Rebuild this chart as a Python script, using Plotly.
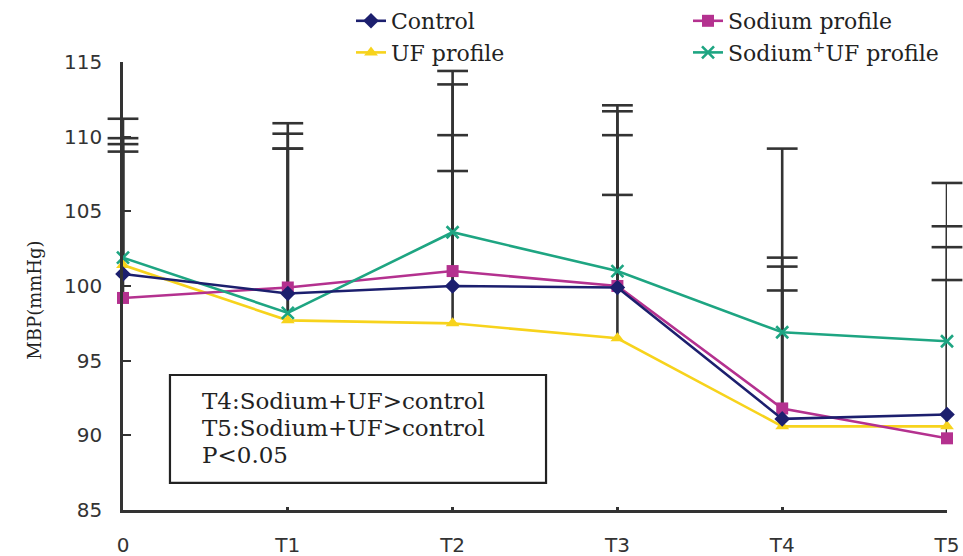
import plotly.graph_objects as go

# Time points of the session
times = ["0", "T1", "T2", "T3", "T4", "T5"]

# Mean MBP (mmHg) for each dialysis regimen
control_mean = [100.8, 99.5, 100.0, 99.9, 91.1, 91.4]
sodium_mean = [99.2, 99.9, 101.0, 100.0, 91.8, 89.8]
uf_mean = [101.4, 97.7, 97.5, 96.5, 90.6, 90.6]
sodium_uf_mean = [101.9, 98.2, 103.6, 101.0, 96.9, 96.3]

# Standard deviations (drawn as upper error bars only)
control_sd = [8.7, 10.7, 10.1, 10.2, 10.2, 12.6]
sodium_sd = [9.8, 11.0, 12.5, 11.7, 10.1, 10.6]
uf_sd = [8.5, 11.5, 10.2, 9.6, 9.1, 12.0]
sodium_uf_sd = [9.3, 11.0, 10.8, 11.1, 12.3, 10.6]

series = [
    dict(name="Control", mean=control_mean, sd=control_sd, legend="legend",
         color="#1c1f6e", symbol="diamond", size=12, lw=0),
    dict(name="Sodium profile", mean=sodium_mean, sd=sodium_sd, legend="legend2",
         color="#b4318f", symbol="square", size=12, lw=0),
    dict(name="UF profile", mean=uf_mean, sd=uf_sd, legend="legend",
         color="#f7d31c", symbol="triangle-up", size=12, lw=0),
    dict(name="Sodium<sup>+</sup>UF profile", mean=sodium_uf_mean, sd=sodium_uf_sd,
         legend="legend2", color="#1ea582", symbol="x-thin", size=12, lw=2.6),
]

ERR_COLOR = "#333333"
fig = go.Figure()

# Error bar stems and caps, drawn first so the series sit on top
for s in series:
    xs, ys = [], []
    for t, m, sd in zip(times, s["mean"], s["sd"]):
        xs += [t, t, None]
        ys += [m, m + sd, None]
    fig.add_trace(go.Scatter(
        x=xs, y=ys, mode="lines", line=dict(color=ERR_COLOR, width=2.6),
        showlegend=False, hoverinfo="skip", cliponaxis=False,
    ))
    fig.add_trace(go.Scatter(
        x=times, y=[m + sd for m, sd in zip(s["mean"], s["sd"])],
        mode="markers",
        marker=dict(symbol="line-ew", size=22,
                    line=dict(color=ERR_COLOR, width=2.6)),
        showlegend=False, hoverinfo="skip", cliponaxis=False,
    ))

# Series lines with markers
for s in [series[2], series[1], series[3], series[0]]:
    mk = dict(symbol=s["symbol"], size=s["size"], color=s["color"])
    if s["lw"]:
        mk["line"] = dict(color=s["color"], width=s["lw"])
    fig.add_trace(go.Scatter(
        x=times, y=s["mean"], name=s["name"], mode="lines+markers",
        line=dict(color=s["color"], width=2.6), marker=mk,
        cliponaxis=False, legend=s["legend"], legendrank=series.index(s),
    ))

# Significance note box
fig.add_shape(type="rect", xref="x", yref="y", x0=0.285, x1=2.567, y0=86.81, y1=94.04,
              line=dict(color="#222222", width=2.2), fillcolor="rgba(0,0,0,0)")
note_lines = ["T4:Sodium+UF>control", "T5:Sodium+UF>control", "P<0.05"]
note_y = [92.30, 90.49, 88.68]
for txt, yy in zip(note_lines, note_y):
    fig.add_annotation(x=0.4715, y=yy, xref="x", yref="y", text=txt, showarrow=False,
                       xanchor="left", yanchor="middle", borderpad=0,
                       font=dict(family="DejaVu Serif", size=23, color="#222222"))

# Y axis title
fig.add_annotation(x=(22 - 123) / 824, y=(510 - 300) / 448.3, xref="paper", yref="paper",
                   text="MBP(mmHg)", showarrow=False, textangle=-90,
                   font=dict(family="DejaVu Serif", size=18, color="#222222"))

legend_style = dict(orientation="v", xanchor="left", yanchor="top",
                    xref="container", yref="container",
                    font=dict(family="DejaVu Serif", size=22, color="#222222"),
                    bgcolor="rgba(0,0,0,0)", tracegroupgap=0, itemsizing="trace")

fig.update_layout(
    width=963, height=556,
    margin=dict(l=123, r=16, t=62, b=46, autoexpand=False),
    paper_bgcolor="white", plot_bgcolor="white",
    font=dict(family="DejaVu Sans", size=20, color="#333333"),
    showlegend=True,
    legend=dict(x=351 / 963, y=1.0, **legend_style),
    legend2=dict(x=688 / 963, y=1.0, **legend_style),
    xaxis=dict(type="category", range=[0, 5], showgrid=False, zeroline=False,
               showline=True, linecolor="#333333", linewidth=2.6,
               ticks="inside", ticklen=3, tickwidth=3, tickcolor="#333333",
               ticklabelstandoff=15,
               tickfont=dict(family="DejaVu Sans", size=20, color="#333333")),
    yaxis=dict(range=[85, 115], tickvals=[85, 90, 95, 100, 105, 110, 115],
               showgrid=False, zeroline=False,
               showline=True, linecolor="#333333", linewidth=2.6,
               ticks="inside", ticklen=8, tickwidth=2.4, tickcolor="#333333",
               ticklabelstandoff=14,
               tickfont=dict(family="DejaVu Sans", size=20, color="#333333")),
)

fig.write_html("out.html")
